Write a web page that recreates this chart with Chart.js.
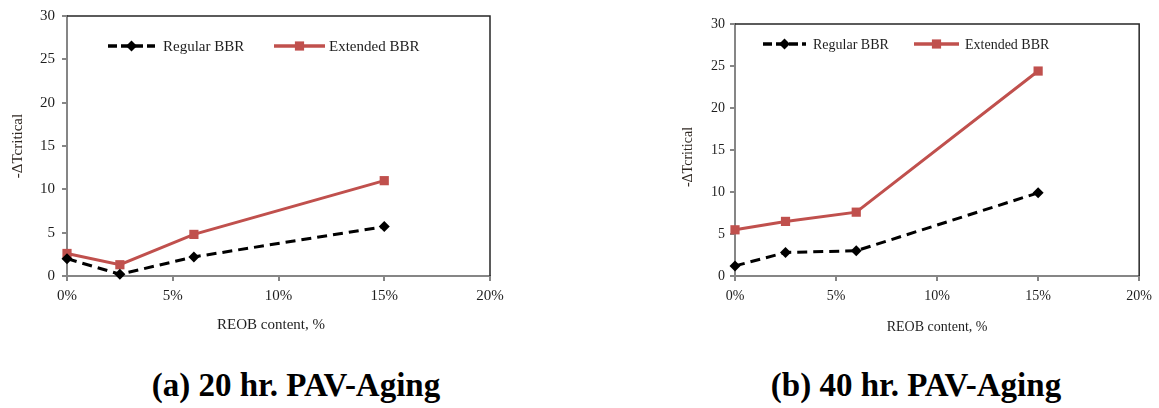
<!DOCTYPE html>
<html>
<head>
<meta charset="utf-8">
<script src="https://cdn.jsdelivr.net/npm/chart.js@4.4.1/dist/chart.umd.min.js"></script>
<style>
  html, body { margin: 0; padding: 0; background: #fff; }
  body { width: 1159px; height: 408px; position: relative; overflow: hidden; font-family: 'Liberation Serif', serif; }
  .box { position: absolute; top: 0; }
  .caption { position: absolute; width: 400px; text-align: center; font-weight: bold; font-size: 33px; line-height: 33px; top: 369px; color: #000; }
</style>
</head>
<body>
<div class="box" style="left:0"><canvas id="chartA" width="520" height="345"></canvas></div>
<div class="box" style="left:660px"><canvas id="chartB" width="499" height="345"></canvas></div>
<div class="caption" style="left:96px">(a) 20 hr. PAV-Aging</div>
<div class="caption" style="left:716px">(b) 40 hr. PAV-Aging</div>
<script>
// REOB content (%) of the tested blends
const reobContent = [0, 2.5, 6, 15];

// -ΔTcritical after 20 hr PAV
const regular20 = [2.0, 0.2, 2.2, 5.7];
const extended20 = [2.6, 1.3, 4.8, 11.0];

// -ΔTcritical after 40 hr PAV
const regular40 = [1.2, 2.8, 3.0, 9.9];
const extended40 = [5.5, 6.5, 7.6, 24.4];

const seriesNames = ['Regular BBR', 'Extended BBR'];
const xTitle = 'REOB content, %';
const yTitle = '-\u0394Tcritical';

const RED = '#c0504d';
const AXIS_GREY = '#868686';
const TEXT = '#1e1e1e';

function toPoints(values) {
	return values.map((v, i) => ({ x: reobContent[i], y: v }));
}

// black frame on top and right of the plot area, like the Excel plot border
const plotFrame = {
	id: 'plotFrame',
	beforeDatasetsDraw(chart) {
		const { ctx, chartArea: a } = chart;
		ctx.save();
		ctx.strokeStyle = '#262626';
		ctx.lineWidth = 1.5;
		ctx.beginPath();
		ctx.moveTo(a.left, a.top);
		ctx.lineTo(a.right, a.top);
		ctx.lineTo(a.right, a.bottom);
		ctx.stroke();
		ctx.restore();
	}
};

// legend drawn inside the plot area: line sample with the marker in the middle
const insideLegend = {
	id: 'insideLegend',
	afterDatasetsDraw(chart, _args, opts) {
		const ctx = chart.ctx;
		ctx.save();
		chart.data.datasets.forEach((ds, i) => {
			const item = opts.items[i];
			ctx.strokeStyle = ds.borderColor;
			ctx.lineWidth = ds.borderWidth + 0.5;
			ctx.lineCap = 'butt';
			ctx.setLineDash(opts.dashes[i] || []);
			ctx.beginPath();
			ctx.moveTo(item.x0, opts.y);
			ctx.lineTo(item.x1, opts.y);
			ctx.stroke();
			ctx.setLineDash([]);
			ctx.fillStyle = ds.pointBackgroundColor;
			ctx.strokeStyle = ds.pointBackgroundColor;
			Chart.helpers.drawPoint(ctx, {
				pointStyle: ds.pointStyle,
				radius: ds.pointRadius,
				rotation: 0,
				borderWidth: 0
			}, (item.x0 + item.x1) / 2, opts.y);
			ctx.fillStyle = TEXT;
			ctx.font = opts.fontSize + 'px "Liberation Serif"';
			ctx.textBaseline = 'middle';
			ctx.textAlign = 'left';
			ctx.fillText(ds.label, item.tx, opts.y + 1);
		});
		ctx.restore();
	}
};

function buildChart(canvasId, regular, extended, look) {
	const canvas = document.getElementById(canvasId);
	return new Chart(canvas, {
		type: 'line',
		data: {
			datasets: [
				{
					label: seriesNames[0],
					data: toPoints(regular),
					borderColor: '#000',
					borderWidth: 3,
					borderDash: [10, 6],
					pointStyle: 'rectRot',
					pointRadius: 5.5,
					pointBackgroundColor: '#000',
					pointBorderWidth: 0,
					clip: false
				},
				{
					label: seriesNames[1],
					data: toPoints(extended),
					borderColor: RED,
					borderWidth: 3,
					pointStyle: 'rect',
					pointRadius: 6.5,
					pointBackgroundColor: RED,
					pointBorderWidth: 0,
					clip: false
				}
			]
		},
		options: {
			responsive: false,
			animation: false,
			layout: { padding: look.padding },
			scales: {
				x: {
					type: 'linear',
					min: 0,
					max: 20,
					ticks: {
						stepSize: 5,
						padding: look.xTickPad,
						color: TEXT,
						font: { family: 'Liberation Serif', size: look.tickSize },
						callback: v => v + '%'
					},
					grid: { drawOnChartArea: false, tickLength: 5, color: AXIS_GREY, lineWidth: 2 },
					border: { color: AXIS_GREY, width: 2 },
					title: {
						display: true,
						text: look.xTitle,
						color: TEXT,
						font: { family: 'Liberation Serif', size: look.titleSize },
						padding: { top: 0, bottom: look.xTitlePad }
					},
					afterFit: s => { s.height = 69; }
				},
				y: {
					min: 0,
					max: 30,
					ticks: {
						stepSize: 5,
						padding: look.yTickPad,
						color: TEXT,
						font: { family: 'Liberation Serif', size: look.tickSize }
					},
					grid: { drawOnChartArea: false, tickLength: 5, color: AXIS_GREY, lineWidth: 2 },
					border: { color: AXIS_GREY, width: 2 },
					title: {
						display: true,
						text: look.yTitle,
						color: '#2e2620',
						font: { family: 'Liberation Serif', size: look.titleSize },
						padding: { top: look.yTitlePad, bottom: 0 }
					},
					afterFit: s => { s.width = look.yWidth; }
				}
			},
			plugins: {
				legend: { display: false },
				tooltip: { enabled: false },
				insideLegend: look.legend
			}
		},
		plugins: [plotFrame, insideLegend]
	});
}

buildChart('chartA', regular20, extended20, {
	padding: { left: 0, top: 15, right: 30, bottom: 0 },
	yWidth: 67,
	tickSize: 15,
	titleSize: 15,
	xTickPad: 6,
	yTickPad: 7,
	xTitlePad: 11,
	yTitlePad: 9,
	xTitle: xTitle + '\u00a0\u00a0\u00a0\u00a0',
	yTitle: yTitle,
	legend: {
		y: 46,
		fontSize: 15,
		dashes: [[9, 4], []],
		items: [
			{ x0: 108, x1: 155, tx: 163 },
			{ x0: 274, x1: 325, tx: 329 }
		]
	}
});

buildChart('chartB', regular40, extended40, {
	padding: { left: 0, top: 24, right: 17, bottom: 0 },
	yWidth: 75,
	tickSize: 14,
	titleSize: 14,
	xTickPad: 7,
	yTickPad: 5,
	xTitlePad: 9,
	yTitlePad: 20,
	xTitle: xTitle,
	yTitle: yTitle + '\u00a0\u00a0\u00a0\u00a0',
	legend: {
		y: 44,
		fontSize: 14,
		dashes: [[9, 4], []],
		items: [
			{ x0: 103, x1: 146, tx: 153 },
			{ x0: 254, x1: 299, tx: 305 }
		]
	}
});
</script>
</body>
</html>
